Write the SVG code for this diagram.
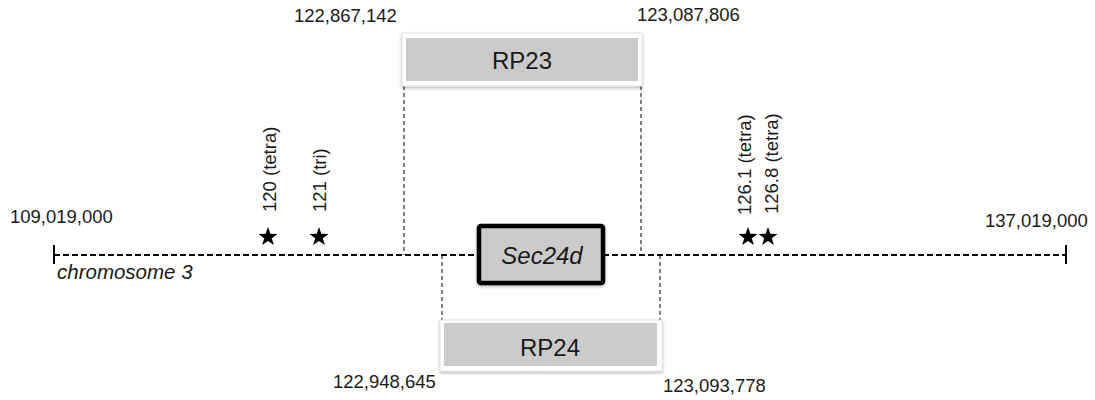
<svg xmlns="http://www.w3.org/2000/svg" width="1095" height="400" viewBox="0 0 1095 400">
  <defs>
    <filter id="soft" x="-10%" y="-20%" width="120%" height="150%">
      <feDropShadow dx="0" dy="1.5" stdDeviation="1.5" flood-color="#000" flood-opacity="0.3"/>
    </filter>
    <path id="star" d="M0,-10 L2.35,-3.24 L9.51,-3.09 L3.8,1.24 L5.88,8.09 L0,4 L-5.88,8.09 L-3.8,1.24 L-9.51,-3.09 L-2.35,-3.24 Z"/>
    <style>
      .num { font-family: "Liberation Sans", Arial, sans-serif; font-size: 18.5px; fill: #1a1a1a; }
      .lbl { font-family: "Liberation Sans", Arial, sans-serif; font-size: 18.5px; fill: #1a1a1a; }
      .big { font-family: "Liberation Sans", Arial, sans-serif; font-size: 24px; fill: #1a1a1a; text-anchor: middle; }
      .frame { fill: #ffffff; stroke: #e2e2e2; stroke-width: 1; filter: url(#soft); }
      .clone { fill: #cbcbcb; }
      .chrom { stroke: #000; stroke-width: 2; stroke-dasharray: 6 3; fill: none; }
      .guide { stroke: #000; stroke-width: 1; stroke-dasharray: 4 3; fill: none; }
      .tick { stroke: #000; stroke-width: 2; }
    </style>
  </defs>

  <rect width="1095" height="400" fill="#ffffff"/>

  <!-- chromosome axis and clone boundary guides -->
  <g id="connectors">
    <line class="chrom" x1="54" y1="255" x2="1066" y2="255"/>
    <line class="tick" x1="54" y1="245" x2="54" y2="264"/>
    <line class="tick" x1="1066" y1="245" x2="1066" y2="264"/>
    <line class="guide" x1="404" y1="86" x2="404" y2="255"/>
    <line class="guide" x1="641" y1="86" x2="641" y2="255"/>
    <line class="guide" x1="442" y1="255" x2="442" y2="320"/>
    <line class="guide" x1="660" y1="255" x2="660" y2="320"/>
  </g>

  <!-- coordinate labels -->
  <text class="num" x="10" y="223">109,019,000</text>
  <text class="num" x="985" y="227">137,019,000</text>
  <text class="num" x="294" y="22">122,867,142</text>
  <text class="num" x="637" y="21">123,087,806</text>
  <text class="num" x="333" y="388">122,948,645</text>
  <text class="num" x="663" y="392">123,093,778</text>
  <text x="57" y="279" font-family="Liberation Sans, Arial, sans-serif" font-size="20.5" font-style="italic" fill="#1a1a1a">chromosome 3</text>

  <!-- BAC clone RP23 -->
  <g id="rp23">
    <rect class="frame" x="402" y="33" width="240" height="53"/>
    <rect class="clone" x="406" y="38" width="232" height="43"/>
    <text class="big" x="522" y="69">RP23</text>
  </g>

  <!-- BAC clone RP24 -->
  <g id="rp24">
    <rect class="frame" x="440" y="320" width="222" height="51"/>
    <rect class="clone" x="444" y="323" width="213" height="43"/>
    <text class="big" x="550" y="356">RP24</text>
  </g>

  <!-- gene -->
  <g id="sec24d">
    <rect x="479" y="226" width="124" height="57" rx="2" fill="#cbcbcb" stroke="#000" stroke-width="4.5" filter="url(#soft)"/>
    <text class="big" x="542" y="264" font-style="italic">Sec24d</text>
  </g>

  <!-- markers -->
  <g id="marker-120">
    <use href="#star" x="268" y="237"/>
    <text class="lbl" transform="translate(276,212) rotate(-90)">120 (tetra)</text>
  </g>
  <g id="marker-121">
    <use href="#star" x="319" y="237"/>
    <text class="lbl" transform="translate(326,212) rotate(-90)">121 (tri)</text>
  </g>
  <g id="marker-126-1">
    <use href="#star" x="748" y="237"/>
    <text class="lbl" transform="translate(751,215) rotate(-90)">126.1 (tetra)</text>
  </g>
  <g id="marker-126-8">
    <use href="#star" x="768" y="237"/>
    <text class="lbl" transform="translate(778,214) rotate(-90)">126.8 (tetra)</text>
  </g>
</svg>
